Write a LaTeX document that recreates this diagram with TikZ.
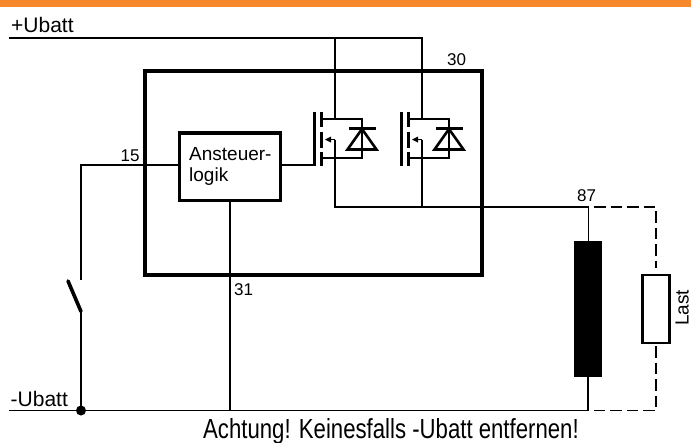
\documentclass[tikz,border=0pt]{standalone}
\usepackage{fontspec}
\setmainfont{Liberation Sans}
\definecolor{barorange}{RGB}{247,136,44}
\tikzset{
 x=1pt,y=-1pt,
 wire/.style={draw=black,line width=1.8pt},
 heavy/.style={draw=black,line width=2.8pt},
 dashwire/.style={draw=black,line width=1.8pt,dash pattern=on 11.5pt off 5pt},
 lbl/.style={inner sep=0pt,text=black,anchor=base west},
 small/.style={lbl,font=\fontsize{17}{19}\selectfont},
 mid/.style={lbl,font=\fontsize{19}{21}\selectfont},
 big/.style={lbl,font=\fontsize{21}{23}\selectfont},
 box/.style={draw,inner sep=0pt,outer sep=0pt,anchor=north west},
 pics/mosfet/.style={code={
   \draw[heavy,line width=2.4pt] (-20.5,-7) -- (-20.5,47);
   \draw[heavy,line width=3pt] (-13.5,-7) -- (-13.5,8) (-13.5,13) -- (-13.5,29) (-13.5,33) -- (-13.5,47);
   \draw[wire] (-13.5,0) -- (27,0) -- (27,39) -- (-13.5,39);
   \draw[wire] (0,20.5) -- (-6,20.5);
   \fill[black] (-10,20.5) -- (-4,17.5) -- (-4,23.5) -- cycle;
   \draw[heavy,line width=2.6pt] (14,9.7) -- (40.5,9.7);
   \draw[heavy,line width=2.6pt,line join=miter] (27,10) -- (12.5,30.5) -- (41.5,30.5) -- cycle;
 }},
}
\begin{document}
\begin{tikzpicture}
\useasboundingbox (0,0) rectangle (691,442);
\fill[white] (0,0) rectangle (691,442);
\fill[barorange] (0,0) rectangle (691,7);
% named points
\coordinate (pl) at (9,37.7);
\coordinate (j1) at (335,37.7);
\coordinate (pr) at (422,37.7);
\coordinate (d1) at (335,119);
\coordinate (d2) at (422,119);
\coordinate (s0) at (335,139.5);
\coordinate (s2) at (422,139.5);
\coordinate (j2) at (422,207);
\coordinate (s1) at (335,207);
\coordinate (o87) at (588.5,207);
\coordinate (g1) at (314.5,165.3);
\coordinate (gl) at (9,410.5);
\coordinate (dot) at (81,410.5);
\coordinate (c31) at (230,410.5);
\coordinate (cb) at (587.7,410.5);
\coordinate (sw1) at (81,280);
\coordinate (swa) at (68,281);
\coordinate (swb) at (81,311.5);
\coordinate (c15) at (81,165.3);
\coordinate (dl) at (594,207);
\coordinate (dr) at (656,207);
\coordinate (dlast1) at (656,268);
\coordinate (dlast2) at (656,346);
\coordinate (dbr) at (656,410.5);
\coordinate (dbl) at (594,410.5);
% boxes
\node[box,line width=4pt,minimum width=337pt,minimum height=204pt] (mod) at (145,71.3) {};
\node[box,line width=3.4pt,minimum width=100.6pt,minimum height=67.7pt] (logic) at (179.7,133) {};
\node[box,fill=black,line width=0pt,minimum width=27pt,minimum height=135.7pt] (coil) at (574.3,241) {};
\node[box,line width=2.8pt,minimum width=27pt,minimum height=68pt] (last) at (642.5,275) {};
% power rail
\draw[wire] (pl) -- (pr) -- (d2);
\draw[wire] (j1) -- (d1);
% transistors
\pic at (d1) {mosfet};
\pic at (d2) {mosfet};
\draw[wire] (s0) -- (s1) -- (o87) -- (coil.north -| o87);
\draw[wire] (s2) -- (j2);
\draw[wire] (logic.east |- g1) -- (g1);
% control and ground
\draw[wire] (logic.west |- c15) -- (c15) -- (sw1);
\draw[heavy,line width=3.6pt,line cap=round] (swa) -- (swb);
\draw[wire] (swb) -- (dot);
\draw[wire] (gl) -- (cb) -- (coil.south -| cb);
\draw[wire] (logic.south) -- (c31);
\fill[black] (dot) circle (5pt);
% load
\draw[dashwire] (dl) -- (dr) -- (dlast1);
\draw[dashwire] (dlast2) -- (dbr) -- (dbl);
% labels
\node[big] (t1) at (11,32) {+Ubatt};
\node[big] (t2) at (10.5,406) {-Ubatt};
\node[small] (t15) at (120.5,161) {15};
\node[small] (t30) at (447,65.7) {30};
\node[small] (t87) at (577,201.7) {87};
\node[small] (t31) at (234,295) {31};
\node[mid] (a1) at (189,160.7) {Ansteuer-};
\node[mid] (a2) at (189,181.7) {logik};
\node[mid,rotate=90] (tl) at (688.5,326) {Last};
\node[lbl] (warn) at (203,438.3) {\resizebox{375.5pt}{20pt}{Achtung! Keinesfalls -Ubatt entfernen!}};
\end{tikzpicture}
\end{document}
